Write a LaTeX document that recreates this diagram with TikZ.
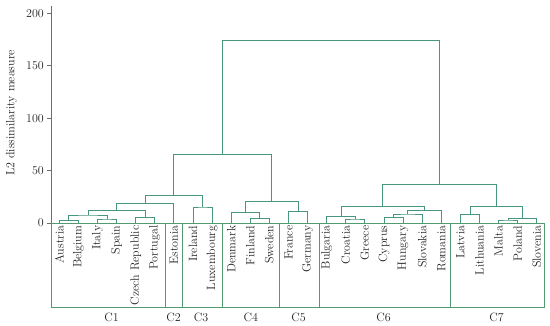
\documentclass[tikz,border=0pt]{standalone}
\usetikzlibrary{calc}
\definecolor{dendro}{RGB}{70,150,128}
\definecolor{boxc}{RGB}{80,155,112}
\definecolor{axisc}{RGB}{110,110,110}
\definecolor{txt}{RGB}{35,35,35}
\tikzset{
  dline/.style={draw=dendro, line width=0.9pt},
  bline/.style={draw=boxc, line width=0.9pt},
  aline/.style={draw=axisc, line width=0.9pt},
  leaf/.style={rotate=90, anchor=east, inner sep=0pt, text=txt, font=\fontsize{12}{13}\selectfont},
  ticklab/.style={anchor=east, inner sep=0pt, text=txt, font=\fontsize{12}{13}\selectfont},
  clab/.style={inner sep=0pt, text=txt, font=\fontsize{12}{13}\selectfont},
}
\newcommand\mergeat[4]{%
  \path let \p1=($(#2)!.5!(#3)$) in coordinate (#1) at (\x1,-#4pt);
  \draw[dline] (#2) |- (#1) -| (#3);}
\begin{document}
\begin{tikzpicture}[x=1pt,y=-1pt]
\useasboundingbox (0,0) rectangle (550,326);
% leaves
\foreach \n [count=\i from 0] in {Austria,Belgium,Italy,Spain,Czech Republic,Portugal,Estonia,Ireland,Luxembourg,Denmark,Finland,Sweden,France,Germany,Bulgaria,Croatia,Greece,Cyprus,Hungary,Slovakia,Romania,Latvia,Lithuania,Malta,Poland,Slovenia}{
  \coordinate (l\i) at (59.3+19.1*\i,223);
  \node[leaf] (t\i) at (59.3+19.1*\i,225.5) {\n};
}
% box
\draw[bline] (51.3,223) rectangle (544.5,307.5);
\foreach \sx/\nm in {165.3/s1,182.3/s2,222.5/s3,279.2/s4,319.3/s5,450.5/s6}{
  \coordinate (\nm a) at (\sx,223);
  \coordinate (\nm b) at (\sx,307.5);
  \draw[bline] (\nm a) -- (\nm b);
}
% cluster labels
\node[clab] (c1) at (111.5,317) {C1};
\node[clab] (c2) at (173.5,317) {C2};
\node[clab] (c3) at (201,317) {C3};
\node[clab] (c4) at (250.7,317) {C4};
\node[clab] (c5) at (298.5,317) {C5};
\node[clab] (c6) at (383.5,317) {C6};
\node[clab] (c7) at (496.5,317) {C7};
% axis
\coordinate (atop) at (51.3,6);
\coordinate (abot) at (51.3,223);
\draw[aline] (atop) -- (abot);
\foreach \v in {0,50,100,150,200}{
  \coordinate (tk\v) at (51.3,223-1.0485*\v);
  \coordinate (tl\v) at (46.5,223-1.0485*\v);
  \draw[aline] (tl\v) -- (tk\v);
  \node[ticklab] (n\v) at (44,223-1.0485*\v) {\v};
}
\node[rotate=90, inner sep=0pt, text=txt, font=\fontsize{12}{13}\selectfont] (ytitle) at (11.5,113) {L2 dissimilarity measure};
% dendrogram
\mergeat{mAB}{l0}{l1}{220.7}
\mergeat{mIS}{l2}{l3}{219}
\mergeat{mABIS}{mAB}{mIS}{215}
\mergeat{mCP}{l4}{l5}{217.3}
\mergeat{mCa}{mABIS}{mCP}{210.7}
\mergeat{mCb}{mCa}{l6}{203.3}
\mergeat{mCc}{l7}{l8}{207}
\mergeat{mCd}{mCb}{mCc}{195.3}
\mergeat{mFS}{l10}{l11}{218.7}
\mergeat{mDFS}{l9}{mFS}{212.3}
\mergeat{mFG}{l12}{l13}{211.7}
\mergeat{mCe}{mDFS}{mFG}{201.7}
\mergeat{mL}{mCd}{mCe}{154.7}
\mergeat{mCG}{l15}{l16}{219}
\mergeat{mBCG}{l14}{mCG}{216.7}
\mergeat{mCH}{l17}{l18}{217.7}
\mergeat{mCHS}{mCH}{l19}{214}
\mergeat{mCHSR}{mCHS}{l20}{210.7}
\mergeat{mCf}{mBCG}{mCHSR}{206.7}
\mergeat{mLL}{l21}{l22}{214.3}
\mergeat{mMP}{l23}{l24}{220}
\mergeat{mMPS}{mMP}{l25}{218.3}
\mergeat{mCg}{mLL}{mMPS}{206.7}
\mergeat{mR}{mCf}{mCg}{184.7}
\mergeat{mTop}{mL}{mR}{40.3}
\end{tikzpicture}
\end{document}
